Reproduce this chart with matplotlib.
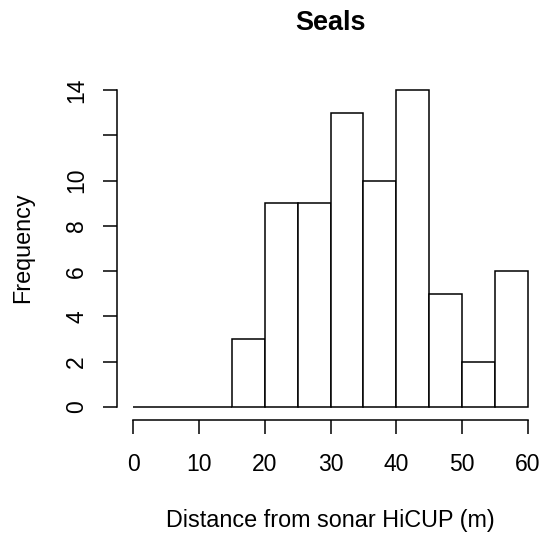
import matplotlib.pyplot as plt

plt.rcParams["font.family"] = ["Liberation Sans", "DejaVu Sans"]

bin_left = [0, 5, 10, 15, 20, 25, 30, 35, 40, 45, 50, 55]
counts = [0, 0, 0, 3, 9, 9, 13, 10, 14, 5, 2, 6]
x_ticks = [0, 10, 20, 30, 40, 50, 60]
y_ticks = [0, 2, 4, 6, 8, 10, 12, 14]
y_labels = ["0", "2", "4", "6", "8", "10", "", "14"]

fig = plt.figure(figsize=(5.45, 5.39), dpi=100)
ax = fig.add_axes([0.2152, 0.2213, 0.7826, 0.6352])

ax.bar(bin_left, counts, width=5, align="edge", color="white",
       edgecolor="black", linewidth=1.1)

ax.set_xlim(-2.4, 62.4)
ax.set_ylim(-0.56, 14.56)

for s in ["top", "right"]:
    ax.spines[s].set_visible(False)
ax.spines["left"].set_bounds(0, 14)
ax.spines["bottom"].set_bounds(0, 60)
for s in ["left", "bottom"]:
    ax.spines[s].set_linewidth(1.1)

ax.set_xticks(x_ticks)
ax.set_xticklabels([str(v) for v in x_ticks])
ax.set_yticks(y_ticks)
ax.set_yticklabels(y_labels, rotation=90, va="center")
ax.tick_params(axis="both", length=10, width=1.1, labelsize=16.5)
ax.tick_params(axis="x", pad=14)
ax.tick_params(axis="y", pad=11)

fig.text(0.606, 0.958, "Seals", ha="center", va="center",
         fontsize=19.5, fontweight="bold")
fig.text(0.607, 0.035, "Distance from sonar HiCUP (m)", ha="center",
         va="center", fontsize=16.8)
fig.text(0.042, 0.54, "Frequency", ha="center", va="center",
         rotation=90, fontsize=16.8)

plt.savefig("out.png", dpi=100)
